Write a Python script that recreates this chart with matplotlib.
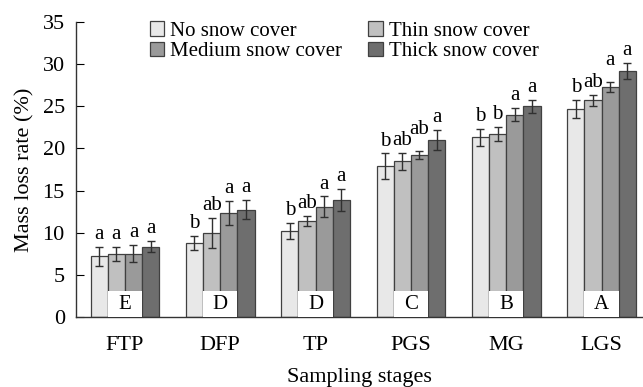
import numpy as np
import matplotlib
matplotlib.use('Agg')
import matplotlib.pyplot as plt
from matplotlib.patches import Rectangle

plt.rcParams['font.family'] = ['Liberation Serif', 'DejaVu Serif']

stages = ['FTP', 'DFP', 'TP', 'PGS', 'MG', 'LGS']
treatments = ['No snow cover', 'Thin snow cover', 'Medium snow cover', 'Thick snow cover']

no_snow = [7.2, 8.8, 10.2, 17.9, 21.3, 24.7]
thin_snow = [7.5, 10.0, 11.4, 18.5, 21.7, 25.7]
medium_snow = [7.5, 12.35, 13.1, 19.25, 24.0, 27.3]
thick_snow = [8.35, 12.75, 13.9, 21.0, 25.0, 29.2]

no_err = [1.1, 0.85, 0.9, 1.5, 1.0, 1.1]
thin_err = [0.8, 1.8, 0.6, 1.0, 0.8, 0.7]
medium_err = [1.0, 1.4, 1.2, 0.5, 0.8, 0.6]
thick_err = [0.7, 1.1, 1.3, 1.2, 0.8, 0.9]

letters = [
    ['a', 'a', 'a', 'a'],
    ['b', 'ab', 'a', 'a'],
    ['b', 'ab', 'a', 'a'],
    ['b', 'ab', 'ab', 'a'],
    ['b', 'b', 'a', 'a'],
    ['b', 'ab', 'a', 'a'],
]
group_letters = ['E', 'D', 'D', 'C', 'B', 'A']

colors = ['#e8e8e8', '#c0c0c0', '#9a9a9a', '#6e6e6e']

values = [no_snow, thin_snow, medium_snow, thick_snow]
errors = [no_err, thin_err, medium_err, thick_err]

fig = plt.figure(figsize=(6.43, 3.87), dpi=100)
ax = fig.add_axes([0.118, 0.181, 0.882, 0.762])

x = np.arange(len(stages))
w = 0.18
offsets = [-1.5, -0.5, 0.5, 1.5]

bars = []
for i in range(4):
    xpos = x + offsets[i] * w
    b = ax.bar(xpos, values[i], w, color=colors[i], edgecolor='#404040',
               linewidth=0.9, label=treatments[i], zorder=2)
    bars.append(b)
    ax.errorbar(xpos, values[i], yerr=errors[i], fmt='none', ecolor='#303030',
                elinewidth=1, capsize=3, capthick=1, zorder=4)
    for j in range(len(stages)):
        gap = 0.35
        # the medium-cover letters sit a bit higher so they don't collide
        if i == 2 and j in (3, 5):
            gap = 1.4
        ax.text(xpos[j], values[i][j] + errors[i][j] + gap, letters[j][i],
                ha='center', va='bottom', fontsize=15, zorder=5)

# white boxes with stage letters
for j in range(len(stages)):
    left = x[j] - w
    ax.add_patch(Rectangle((left, 0), 2 * w, 3.1, facecolor='white',
                           edgecolor='none', zorder=3))
    ax.text(x[j], 1.5, group_letters[j], ha='center', va='center',
            fontsize=15, zorder=5)

ax.set_xlim(-0.514, 5.435)
ax.set_ylim(0, 35)
ax.set_yticks(range(0, 36, 5))
ax.set_xticks(x)
ax.set_xticklabels(stages)
ax.tick_params(axis='y', direction='in', length=6, labelsize=16, pad=8)
ax.tick_params(axis='x', length=0, labelsize=16, pad=14)
for s in ['top', 'right']:
    ax.spines[s].set_visible(False)
for s in ['left', 'bottom']:
    ax.spines[s].set_color('#333333')
    ax.spines[s].set_linewidth(1)

ax.set_ylabel('Mass loss rate (%)', fontsize=16, labelpad=6)
ax.set_xlabel('Sampling stages', fontsize=16, labelpad=9)

order = [0, 2, 1, 3]
ax.legend([bars[k] for k in order], [treatments[k] for k in order], ncol=2,
          loc='upper left', bbox_to_anchor=(0.130, 1.003),
          frameon=False, fontsize=15, handlelength=0.7, handleheight=0.7,
          handletextpad=0.3, columnspacing=1.25, labelspacing=0.05,
          borderpad=0, borderaxespad=0)

fig.savefig('out.png', dpi=100)
